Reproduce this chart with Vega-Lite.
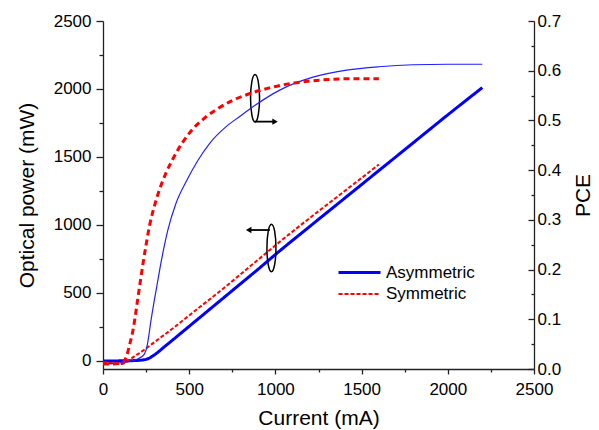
{
  "$schema": "https://vega.github.io/schema/vega-lite/v6.json",
  "width": 431,
  "height": 348,
  "autosize": {"type": "none"},
  "padding": {"left": 103, "top": 21, "right": 65, "bottom": 61},
  "background": "white",
  "config": {
    "view": {"stroke": null},
    "axis": {
      "labelFont": "Liberation Sans", "titleFont": "Liberation Sans",
      "labelFontSize": 17, "titleFontSize": 21, "titleFontWeight": "normal",
      "labelColor": "#000", "titleColor": "#000",
      "domainColor": "#222", "tickColor": "#222", "domainWidth": 1.3, "tickWidth": 1.3,
      "grid": false, "labelOverlap": false, "labelFlush": false
    },
    "legend": {
      "labelFont": "Liberation Sans", "labelFontSize": 17, "labelColor": "#000",
      "symbolType": "M-2,0H2", "symbolSize": 441, "title": null
    }
  },
  "datasets": {
    "power": [
      {"current": 0, "power": 0, "series": "Asymmetric"},
      {"current": 50, "power": 0, "series": "Asymmetric"},
      {"current": 100, "power": 1, "series": "Asymmetric"},
      {"current": 150, "power": 2, "series": "Asymmetric"},
      {"current": 200, "power": 4, "series": "Asymmetric"},
      {"current": 230, "power": 7, "series": "Asymmetric"},
      {"current": 250, "power": 12, "series": "Asymmetric"},
      {"current": 270, "power": 22, "series": "Asymmetric"},
      {"current": 290, "power": 38, "series": "Asymmetric"},
      {"current": 320, "power": 66, "series": "Asymmetric"},
      {"current": 350, "power": 98, "series": "Asymmetric"},
      {"current": 400, "power": 150, "series": "Asymmetric"},
      {"current": 500, "power": 255, "series": "Asymmetric"},
      {"current": 600, "power": 360, "series": "Asymmetric"},
      {"current": 700, "power": 465, "series": "Asymmetric"},
      {"current": 800, "power": 570, "series": "Asymmetric"},
      {"current": 900, "power": 675, "series": "Asymmetric"},
      {"current": 1000, "power": 783, "series": "Asymmetric"},
      {"current": 1200, "power": 990, "series": "Asymmetric"},
      {"current": 1400, "power": 1195, "series": "Asymmetric"},
      {"current": 1600, "power": 1400, "series": "Asymmetric"},
      {"current": 1800, "power": 1605, "series": "Asymmetric"},
      {"current": 2000, "power": 1810, "series": "Asymmetric"},
      {"current": 2200, "power": 2010, "series": "Asymmetric"},
      {"current": 0, "power": -8, "series": "Symmetric"},
      {"current": 30, "power": -12, "series": "Symmetric"},
      {"current": 60, "power": -18, "series": "Symmetric"},
      {"current": 90, "power": -20, "series": "Symmetric"},
      {"current": 110, "power": -22, "series": "Symmetric"},
      {"current": 125, "power": -15, "series": "Symmetric"},
      {"current": 140, "power": -3, "series": "Symmetric"},
      {"current": 160, "power": 15, "series": "Symmetric"},
      {"current": 200, "power": 48, "series": "Symmetric"},
      {"current": 242, "power": 85, "series": "Symmetric"},
      {"current": 300, "power": 140, "series": "Symmetric"},
      {"current": 400, "power": 235, "series": "Symmetric"},
      {"current": 500, "power": 335, "series": "Symmetric"},
      {"current": 600, "power": 435, "series": "Symmetric"},
      {"current": 700, "power": 535, "series": "Symmetric"},
      {"current": 800, "power": 640, "series": "Symmetric"},
      {"current": 900, "power": 745, "series": "Symmetric"},
      {"current": 1000, "power": 850, "series": "Symmetric"},
      {"current": 1100, "power": 952, "series": "Symmetric"},
      {"current": 1200, "power": 1052, "series": "Symmetric"},
      {"current": 1300, "power": 1150, "series": "Symmetric"},
      {"current": 1400, "power": 1248, "series": "Symmetric"},
      {"current": 1500, "power": 1346, "series": "Symmetric"},
      {"current": 1600, "power": 1445, "series": "Symmetric"}
    ],
    "pce": [
      {"current": 0, "pce": 0.01, "series": "Asymmetric"},
      {"current": 150, "pce": 0.015, "series": "Asymmetric"},
      {"current": 200, "pce": 0.02, "series": "Asymmetric"},
      {"current": 240, "pce": 0.03, "series": "Asymmetric"},
      {"current": 255, "pce": 0.045, "series": "Asymmetric"},
      {"current": 265, "pce": 0.065, "series": "Asymmetric"},
      {"current": 275, "pce": 0.09, "series": "Asymmetric"},
      {"current": 285, "pce": 0.112, "series": "Asymmetric"},
      {"current": 298, "pce": 0.139, "series": "Asymmetric"},
      {"current": 315, "pce": 0.172, "series": "Asymmetric"},
      {"current": 337, "pce": 0.215, "series": "Asymmetric"},
      {"current": 375, "pce": 0.278, "series": "Asymmetric"},
      {"current": 423, "pce": 0.333, "series": "Asymmetric"},
      {"current": 484, "pce": 0.378, "series": "Asymmetric"},
      {"current": 551, "pce": 0.42, "series": "Asymmetric"},
      {"current": 619, "pce": 0.454, "series": "Asymmetric"},
      {"current": 716, "pce": 0.488, "series": "Asymmetric"},
      {"current": 793, "pce": 0.508, "series": "Asymmetric"},
      {"current": 880, "pce": 0.53, "series": "Asymmetric"},
      {"current": 1025, "pce": 0.561, "series": "Asymmetric"},
      {"current": 1218, "pce": 0.587, "series": "Asymmetric"},
      {"current": 1412, "pce": 0.601, "series": "Asymmetric"},
      {"current": 1600, "pce": 0.608, "series": "Asymmetric"},
      {"current": 1798, "pce": 0.612, "series": "Asymmetric"},
      {"current": 2000, "pce": 0.613, "series": "Asymmetric"},
      {"current": 2200, "pce": 0.613, "series": "Asymmetric"},
      {"current": 0, "pce": 0.01, "series": "Symmetric"},
      {"current": 60, "pce": 0.01, "series": "Symmetric"},
      {"current": 110, "pce": 0.012, "series": "Symmetric"},
      {"current": 136, "pce": 0.025, "series": "Symmetric"},
      {"current": 155, "pce": 0.05, "series": "Symmetric"},
      {"current": 174, "pce": 0.078, "series": "Symmetric"},
      {"current": 195, "pce": 0.125, "series": "Symmetric"},
      {"current": 213, "pce": 0.168, "series": "Symmetric"},
      {"current": 232, "pce": 0.212, "series": "Symmetric"},
      {"current": 250, "pce": 0.25, "series": "Symmetric"},
      {"current": 271, "pce": 0.29, "series": "Symmetric"},
      {"current": 300, "pce": 0.33, "series": "Symmetric"},
      {"current": 329, "pce": 0.362, "series": "Symmetric"},
      {"current": 365, "pce": 0.394, "series": "Symmetric"},
      {"current": 406, "pce": 0.423, "series": "Symmetric"},
      {"current": 460, "pce": 0.455, "series": "Symmetric"},
      {"current": 522, "pce": 0.483, "series": "Symmetric"},
      {"current": 590, "pce": 0.505, "series": "Symmetric"},
      {"current": 676, "pce": 0.526, "series": "Symmetric"},
      {"current": 750, "pce": 0.54, "series": "Symmetric"},
      {"current": 861, "pce": 0.555, "series": "Symmetric"},
      {"current": 960, "pce": 0.565, "series": "Symmetric"},
      {"current": 1083, "pce": 0.574, "series": "Symmetric"},
      {"current": 1257, "pce": 0.581, "series": "Symmetric"},
      {"current": 1450, "pce": 0.584, "series": "Symmetric"},
      {"current": 1600, "pce": 0.584, "series": "Symmetric"}
    ],
    "ellipses": [
      {"current": 882, "power": 1932},
      {"current": 977, "power": 831}
    ],
    "arrows": [
      {"current": 880, "current2": 1000, "power": 1760},
      {"current": 968, "current2": 845, "power": 963}
    ],
    "heads": [
      {"current": 998, "power": 1760, "dir": "right"},
      {"current": 845, "power": 963, "dir": "left"}
    ]
  },
  "encoding": {
    "x": {
      "field": "current", "type": "quantitative",
      "scale": {"domain": [0, 2500], "nice": false, "zero": false},
      "axis": {
        "title": "Current (mA)", "format": "d",
        "values": [0, 250, 500, 750, 1000, 1250, 1500, 1750, 2000, 2250, 2500],
        "labelExpr": "datum.value % 500 === 0 ? datum.label : ''",
        "tickSize": {"condition": {"test": "datum.value % 500 === 0", "value": 5}, "value": 3},
        "labelPadding": 7, "titlePadding": 10
      }
    }
  },
  "layer": [
    {
      "encoding": {
        "y": {
          "field": "power", "type": "quantitative",
          "scale": {"domain": [-59, 2500], "nice": false, "zero": false},
          "axis": {
            "title": "Optical power (mW)", "format": "d", "orient": "left",
            "values": [0, 250, 500, 750, 1000, 1250, 1500, 1750, 2000, 2250, 2500],
            "labelExpr": "datum.value % 500 === 0 ? datum.label : ''",
            "tickSize": {"condition": {"test": "datum.value % 500 === 0", "value": 7}, "value": 4},
            "labelPadding": 5, "titlePadding": 16
          }
        }
      },
      "layer": [
        {
          "data": {"name": "power"},
          "mark": {"type": "line", "interpolate": "monotone"},
          "encoding": {
            "color": {
              "field": "series", "type": "nominal",
              "scale": {"domain": ["Asymmetric", "Symmetric"], "range": ["#0000ff", "#ff0000"]},
              "legend": {"orient": "none", "legendX": 244.5, "legendY": 239.5, "rowPadding": 2, "labelOffset": 14.5}
            },
            "strokeDash": {
              "field": "series", "type": "nominal",
              "scale": {"domain": ["Asymmetric", "Symmetric"], "range": [[1, 0], [4, 2]]}
            },
            "strokeWidth": {
              "field": "series", "type": "nominal",
              "scale": {"domain": ["Asymmetric", "Symmetric"], "range": [3, 2]}
            }
          }
        },
        {
          "data": {"name": "ellipses"},
          "mark": {
            "type": "point", "filled": false, "stroke": "#000", "strokeWidth": 1.5, "opacity": 1,
            "shape": "M0,-1 A0.19,1 0 1 1 0,1 A0.19,1 0 1 1 0,-1 Z", "size": 2250
          }
        },
        {
          "data": {"name": "arrows"},
          "mark": {"type": "rule", "color": "#000", "strokeWidth": 1.8},
          "encoding": {"x2": {"field": "current2"}}
        },
        {
          "data": {"name": "heads"},
          "mark": {"type": "point", "filled": true, "color": "#000", "size": 40, "opacity": 1},
          "encoding": {
            "shape": {
              "field": "dir", "type": "nominal", "legend": null,
              "scale": {"domain": ["right", "left"], "range": ["triangle-right", "triangle-left"]}
            }
          }
        }
      ]
    },
    {
      "data": {"name": "pce"},
      "encoding": {
        "y": {
          "field": "pce", "type": "quantitative",
          "scale": {"domain": [0, 0.7], "nice": false, "zero": false},
          "axis": {
            "title": "PCE", "orient": "right", "titleAngle": 270, "titleBaseline": "top",
            "values": [0, 0.05, 0.1, 0.15, 0.2, 0.25, 0.3, 0.35, 0.4, 0.45, 0.5, 0.55, 0.6, 0.65, 0.7],
            "labelExpr": "round(datum.value * 100) % 10 === 0 ? format(datum.value, '.1f') : ''",
            "tickSize": {"condition": {"test": "round(datum.value * 100) % 10 === 0", "value": -6}, "value": -3},
            "labelPadding": 9, "titlePadding": 12
          }
        }
      },
      "layer": [
        {
          "transform": [{"filter": "datum.series === 'Asymmetric'"}],
          "mark": {"type": "line", "interpolate": "monotone", "color": "#2020ff", "strokeWidth": 1.2}
        },
        {
          "transform": [{"filter": "datum.series === 'Symmetric'"}],
          "mark": {"type": "line", "interpolate": "monotone", "color": "#ff0000", "strokeWidth": 3, "strokeDash": [6, 4]}
        }
      ]
    }
  ],
  "resolve": {"scale": {"y": "independent"}}
}
